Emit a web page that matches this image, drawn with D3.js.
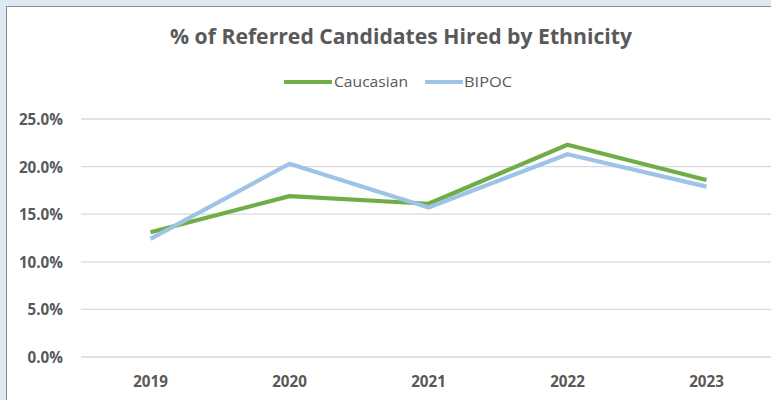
<!DOCTYPE html>
<html>
<head>
<meta charset="utf-8">
<script src="https://cdn.jsdelivr.net/npm/d3@7"></script>
<style>
  html, body { margin: 0; padding: 0; background: #dee9f5; }
  svg { display: block; }
</style>
</head>
<body>
<svg id="chart" width="771" height="400"></svg>
<script>
// Hire rates of referred candidates, by year and ethnicity
const years = ["2019", "2020", "2021", "2022", "2023"];
const caucasian = [0.131, 0.169, 0.161, 0.223, 0.186];
const bipoc = [0.124, 0.203, 0.157, 0.213, 0.179];
const yTicks = [0, 0.05, 0.10, 0.15, 0.20, 0.25];
const seriesNames = ["Caucasian", "BIPOC"];
const seriesColors = ["#70ad47", "#9dc3e6"];

const svg = d3.select("#chart");
const W = 771, H = 400;
const textColor = "#595959";
const font = "'Open Sans', 'Liberation Sans', sans-serif";

// chart frame
svg.append("rect").attr("x", 0).attr("y", 0).attr("width", W).attr("height", H).attr("fill", "#dee9f5");
svg.append("rect").attr("x", 6.5).attr("y", 6.5).attr("width", W + 10).attr("height", H + 10)
  .attr("fill", "#ffffff").attr("stroke", "#8c8c8c").attr("stroke-width", 1);

const x = d3.scaleBand().domain(years).range([81, 776]);
const y = d3.scaleLinear().domain([0, 0.25]).range([357, 119]);

// gridlines
svg.append("g").selectAll("line").data(yTicks).join("line")
  .attr("x1", 81).attr("x2", W)
  .attr("y1", d => y(d)).attr("y2", d => y(d))
  .attr("stroke", "#d9d9d9").attr("stroke-width", 1.3);

// y axis labels
const yAxis = d3.axisLeft(y).tickValues(yTicks).tickFormat(d3.format(".1%")).tickSize(0).tickPadding(0);
const gy = svg.append("g").attr("transform", "translate(63,0)").call(yAxis);
gy.select(".domain").remove();
gy.selectAll("text").attr("fill", textColor).attr("font-family", font)
  .attr("font-weight", "bold").attr("font-size", 15.2).attr("dy", "0.36em");

// x axis labels
const xAxis = d3.axisBottom(x).tickSize(0).tickPadding(0);
const gx = svg.append("g").attr("transform", "translate(0,376)").call(xAxis);
gx.select(".domain").remove();
gx.selectAll("text").attr("fill", textColor).attr("font-family", font)
  .attr("font-weight", "bold").attr("font-size", 15.2).attr("dy", "0.71em");

// lines
const line = d3.line().x((d, i) => x(years[i]) + x.bandwidth() / 2).y(d => y(d));
[caucasian, bipoc].forEach((s, k) => {
  svg.append("path").datum(s).attr("d", line)
    .attr("fill", "none").attr("stroke", seriesColors[k]).attr("stroke-width", 4.2)
    .attr("stroke-linejoin", "round").attr("stroke-linecap", "butt");
});

// title
svg.append("text").attr("x", 401).attr("y", 44).attr("text-anchor", "middle")
  .attr("fill", textColor).attr("font-family", font).attr("font-weight", "bold")
  .attr("font-size", 20.5).attr("textLength", 462).attr("lengthAdjust", "spacingAndGlyphs")
  .text("% of Referred Candidates Hired by Ethnicity");

// legend
const legend = [
  { name: seriesNames[0], color: seriesColors[0], x0: 284, x1: 332, tx: 334, tw: 74 },
  { name: seriesNames[1], color: seriesColors[1], x0: 425, x1: 463, tx: 464, tw: 48 }
];
legend.forEach(l => {
  svg.append("line").attr("x1", l.x0).attr("x2", l.x1).attr("y1", 82).attr("y2", 82)
    .attr("stroke", l.color).attr("stroke-width", 4.2);
  svg.append("text").attr("x", l.tx).attr("y", 87.3).attr("fill", textColor)
    .attr("font-family", font).attr("font-size", 14.8)
    .attr("textLength", l.tw).attr("lengthAdjust", "spacingAndGlyphs").text(l.name);
});
</script>
</body>
</html>
